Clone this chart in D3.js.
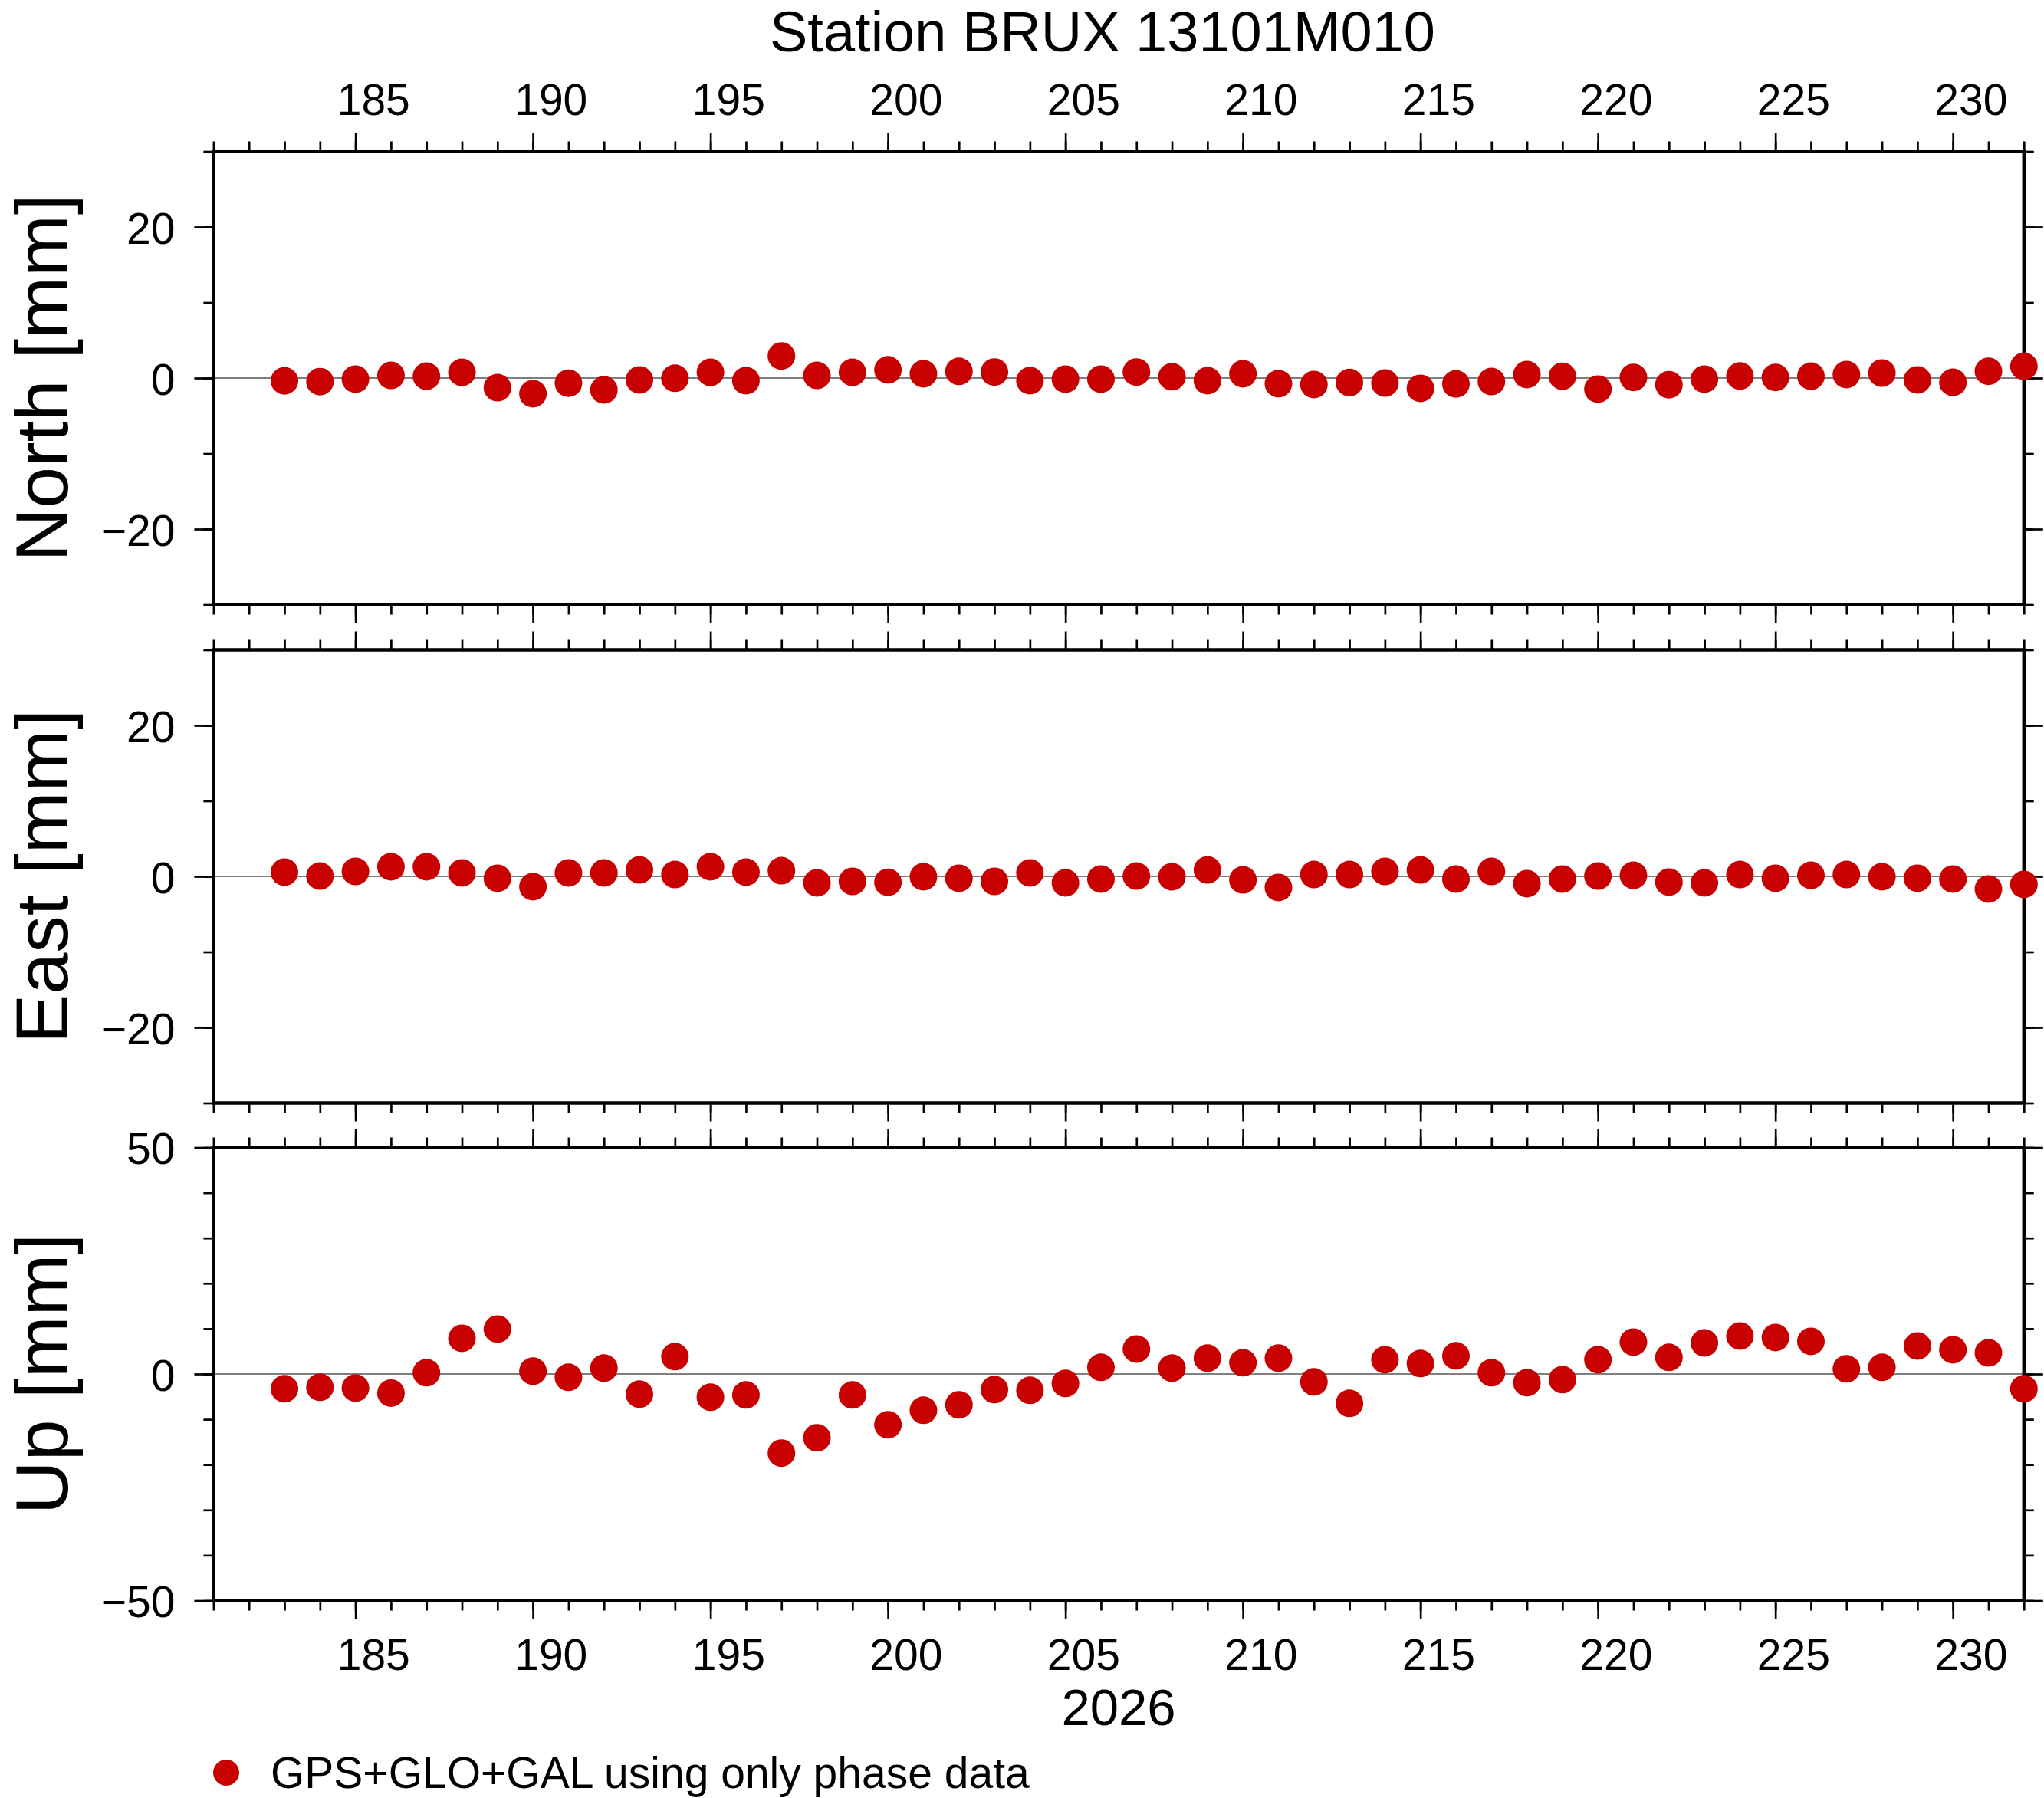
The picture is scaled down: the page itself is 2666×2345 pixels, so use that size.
<!DOCTYPE html>
<html>
<head>
<meta charset="utf-8">
<script src="https://cdn.jsdelivr.net/npm/d3@7"></script>
<style>
body { margin: 0; background: #fff; }
text { font-family: "Liberation Sans", Arial, Helvetica, sans-serif; fill: #000; }
</style>
</head>
<body>
<svg width="2666" height="2345"></svg>
<script>
// day of year 2026, one solution per day
var days = [183,184,185,186,187,188,189,190,191,192,193,194,195,196,197,198,199,200,201,202,
            203,204,205,206,207,208,209,210,211,212,213,214,215,216,217,218,219,220,221,222,
            223,224,225,226,227,228,229,230,231,232];

// residuals in mm
var north = [-0.37,-0.47,-0.15,0.35,0.25,0.76,-1.27,-2.08,-0.68,-1.57,-0.25,-0.03,0.76,-0.35,2.92,0.35,0.76,1.08,0.57,0.88,
             0.79,-0.35,-0.15,-0.14,0.79,0.17,-0.35,0.56,-0.74,-0.86,-0.59,-0.66,-1.37,-0.78,-0.46,0.46,0.24,-1.47,0.08,-0.88,
             -0.15,0.27,0.08,0.25,0.46,0.66,-0.25,-0.56,0.90,1.55];
var east = [0.56,0.05,0.66,1.27,1.27,0.46,-0.25,-1.37,0.46,0.46,0.86,0.25,1.27,0.56,0.76,-0.86,-0.66,-0.78,-0.05,-0.25,
            -0.66,0.46,-0.86,-0.35,0.05,-0.05,0.86,-0.46,-1.47,0.25,0.25,0.66,0.86,-0.35,0.66,-0.96,-0.35,0.05,0.15,-0.76,
            -0.86,0.25,-0.25,0.15,0.25,-0.05,-0.25,-0.35,-1.67,-1.06];
var up = [-3.27,-2.93,-3.10,-4.22,0.28,7.88,9.91,0.62,-0.73,1.30,-4.45,3.83,-5.12,-4.62,-17.45,-14.08,-4.62,-11.2,-8.0,-6.81,
          -3.43,-3.60,-2.08,1.46,5.52,1.30,3.49,2.48,3.49,-1.75,-6.48,3.15,2.31,4.0,0.28,-1.91,-1.24,3.15,7.04,3.66,
          6.87,8.39,8.05,7.21,1.13,1.46,6.19,5.35,4.67,-3.27];

var dayTicks = [185,190,195,200,205,210,215,220,225,230];
var neTicks = [-20,0,20];
var upTicks = [-50,0,50];
var components = ["North [mm]", "East [mm]", "Up [mm]"];
var title = "Station BRUX 13101M010";
var yearLabel = "2026";
var legendLabel = "GPS+GLO+GAL using only phase data";

var svg = d3.select("svg"),
    left = 278.4, right = 2639.8,
    panelTop = [197.5, 847.5, 1496.5],
    panelH = 591,
    red = "#c80000";

var x = d3.scaleLinear().domain([181, 232]).range([left, right]);
var minorDays = d3.range(181, 233);

var fmt = function(d) { return d < 0 ? "\u2212" + Math.abs(d) : String(d); };

function drawAxis(g, axis, tr) {
  var a = g.append("g").attr("transform", tr).call(axis);
  a.select(".domain").remove();
  a.selectAll("line").attr("stroke", "#000").attr("stroke-width", 2.7);
  a.selectAll("text").style("font-size", "57px").attr("fill", "#000");
  return a;
}

var panels = [
  {label: components[0], values: north, major: neTicks, lim: 30},
  {label: components[1], values: east, major: neTicks, lim: 30},
  {label: components[2], values: up, major: upTicks, lim: 50}
];

panels.forEach(function(p, i) {
  var top = panelTop[i], bottom = top + panelH;
  var y = d3.scaleLinear().domain([-p.lim, p.lim]).range([bottom, top]);
  var minorY = d3.range(-p.lim, p.lim + 1, 10);
  var g = svg.append("g");

  // zero line
  g.append("line")
      .attr("x1", left).attr("x2", right)
      .attr("y1", y(0)).attr("y2", y(0))
      .attr("stroke", "#000").attr("stroke-width", 1.2);

  // y axes, left with labels, right ticks only
  var ly = drawAxis(g, d3.axisLeft(y).tickValues(p.major).tickSize(25).tickPadding(25).tickFormat(fmt),
      "translate(" + left + ",0)");
  ly.selectAll("text").attr("dy", "0.37em");
  drawAxis(g, d3.axisLeft(y).tickValues(minorY).tickSize(13).tickFormat(""), "translate(" + left + ",0)");
  drawAxis(g, d3.axisRight(y).tickValues(p.major).tickSize(25).tickFormat(""), "translate(" + right + ",0)");
  drawAxis(g, d3.axisRight(y).tickValues(minorY).tickSize(13).tickFormat(""), "translate(" + right + ",0)");

  // x axes, top and bottom ticks
  drawAxis(g, d3.axisTop(x).tickValues(dayTicks).tickSize(24).tickFormat(""), "translate(0," + top + ")");
  drawAxis(g, d3.axisTop(x).tickValues(minorDays).tickSize(13).tickFormat(""), "translate(0," + top + ")");
  drawAxis(g, d3.axisBottom(x).tickValues(dayTicks).tickSize(24).tickFormat(""), "translate(0," + bottom + ")");
  drawAxis(g, d3.axisBottom(x).tickValues(minorDays).tickSize(13).tickFormat(""), "translate(0," + bottom + ")");

  // day labels sit in the middle of each day interval
  if (i === 0) {
    var tl = drawAxis(g, d3.axisTop(x).tickValues(dayTicks.map(function(d) { return d + 0.5; }))
        .tickSize(0).tickFormat(function(d) { return d - 0.5; }), "translate(0," + top + ")");
    tl.selectAll("text").attr("y", -48).attr("dy", null);
  }
  if (i === panels.length - 1) {
    var bl = drawAxis(g, d3.axisBottom(x).tickValues(dayTicks.map(function(d) { return d + 0.5; }))
        .tickSize(0).tickFormat(function(d) { return d - 0.5; }), "translate(0," + bottom + ")");
    bl.selectAll("text").attr("y", 90).attr("dy", null);
  }

  // frame
  g.append("rect")
      .attr("x", left).attr("y", top)
      .attr("width", right - left).attr("height", panelH)
      .attr("fill", "none").attr("stroke", "#000").attr("stroke-width", 4.5);

  // points
  g.selectAll("circle")
    .data(p.values)
    .enter().append("circle")
      .attr("cx", function(d, j) { return x(days[j]); })
      .attr("cy", function(d) { return y(d); })
      .attr("r", 18)
      .attr("fill", red);

  // component label
  var cy = (top + bottom) / 2;
  g.append("text")
      .attr("x", 88).attr("y", cy)
      .attr("transform", "rotate(-90,88," + cy + ")")
      .attr("text-anchor", "middle")
      .style("font-size", "97px")
      .text(p.label);
});

svg.append("text")
    .attr("x", 1438).attr("y", 67)
    .attr("text-anchor", "middle")
    .style("font-size", "74px")
    .text(title);

svg.append("text")
    .attr("x", (left + right) / 2).attr("y", 2250)
    .attr("text-anchor", "middle")
    .style("font-size", "67px")
    .text(yearLabel);

svg.append("circle")
    .attr("cx", 295).attr("cy", 2312).attr("r", 17)
    .attr("fill", red);
svg.append("text")
    .attr("x", 353).attr("y", 2332)
    .style("font-size", "57px")
    .text(legendLabel);
</script>
</body>
</html>
